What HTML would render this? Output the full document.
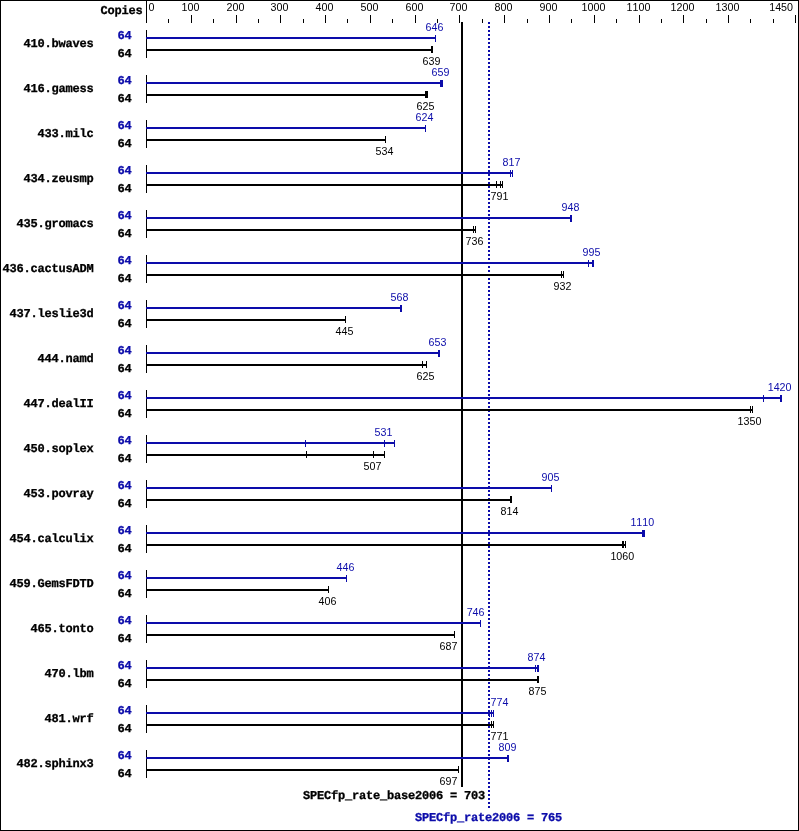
<!DOCTYPE html>
<html><head><meta charset="utf-8"><title>SPECfp_rate2006</title>
<style>
html,body{margin:0;padding:0;background:#fff;}
body{width:799px;height:831px;overflow:hidden;position:relative;}
svg{position:absolute;left:0;top:0;display:block;will-change:transform;}
.r{shape-rendering:crispEdges;}
text{font-family:"Liberation Sans",sans-serif;font-size:10.7px;font-kerning:none;}
.m{font-family:"Liberation Mono",monospace;font-weight:bold;font-size:12px;letter-spacing:-0.2px;stroke:#000;stroke-width:0.3px;text-rendering:geometricPrecision;}
.b{fill:#0c0caa;}
.m.b{stroke:#0c0caa;}
</style></head><body>
<svg width="799" height="831" viewBox="0 0 799 831">
<rect x="0" y="0" width="799" height="831" fill="#fff"/>
<g class="r">
<rect x="0" y="0" width="799" height="1"/>
<rect x="0" y="830" width="799" height="1"/>
<rect x="0" y="0" width="1" height="831"/>
<rect x="798" y="0" width="1" height="831"/>
<rect x="146" y="0" width="1" height="23"/>
<rect x="168" y="19" width="1" height="4"/>
<rect x="191" y="15" width="1" height="8"/>
<rect x="213" y="19" width="1" height="4"/>
<rect x="236" y="15" width="1" height="8"/>
<rect x="258" y="19" width="1" height="4"/>
<rect x="280" y="15" width="1" height="8"/>
<rect x="303" y="19" width="1" height="4"/>
<rect x="325" y="15" width="1" height="8"/>
<rect x="347" y="19" width="1" height="4"/>
<rect x="370" y="15" width="1" height="8"/>
<rect x="392" y="19" width="1" height="4"/>
<rect x="415" y="15" width="1" height="8"/>
<rect x="437" y="19" width="1" height="4"/>
<rect x="459" y="15" width="1" height="8"/>
<rect x="482" y="19" width="1" height="4"/>
<rect x="504" y="15" width="1" height="8"/>
<rect x="527" y="19" width="1" height="4"/>
<rect x="549" y="15" width="1" height="8"/>
<rect x="571" y="19" width="1" height="4"/>
<rect x="594" y="15" width="1" height="8"/>
<rect x="616" y="19" width="1" height="4"/>
<rect x="639" y="15" width="1" height="8"/>
<rect x="661" y="19" width="1" height="4"/>
<rect x="683" y="15" width="1" height="8"/>
<rect x="706" y="19" width="1" height="4"/>
<rect x="728" y="15" width="1" height="8"/>
<rect x="750" y="19" width="1" height="4"/>
<rect x="773" y="19" width="1" height="4"/>
<rect x="795" y="15" width="1" height="8"/>
<rect x="461" y="22" width="2" height="765"/>
<rect x="488" y="22" width="2" height="2" fill="#0c0caa"/>
<rect x="488" y="26" width="2" height="2" fill="#0c0caa"/>
<rect x="488" y="30" width="2" height="2" fill="#0c0caa"/>
<rect x="488" y="34" width="2" height="2" fill="#0c0caa"/>
<rect x="488" y="38" width="2" height="2" fill="#0c0caa"/>
<rect x="488" y="42" width="2" height="2" fill="#0c0caa"/>
<rect x="488" y="46" width="2" height="2" fill="#0c0caa"/>
<rect x="488" y="50" width="2" height="2" fill="#0c0caa"/>
<rect x="488" y="54" width="2" height="2" fill="#0c0caa"/>
<rect x="488" y="58" width="2" height="2" fill="#0c0caa"/>
<rect x="488" y="62" width="2" height="2" fill="#0c0caa"/>
<rect x="488" y="66" width="2" height="2" fill="#0c0caa"/>
<rect x="488" y="70" width="2" height="2" fill="#0c0caa"/>
<rect x="488" y="74" width="2" height="2" fill="#0c0caa"/>
<rect x="488" y="78" width="2" height="2" fill="#0c0caa"/>
<rect x="488" y="82" width="2" height="2" fill="#0c0caa"/>
<rect x="488" y="86" width="2" height="2" fill="#0c0caa"/>
<rect x="488" y="90" width="2" height="2" fill="#0c0caa"/>
<rect x="488" y="94" width="2" height="2" fill="#0c0caa"/>
<rect x="488" y="98" width="2" height="2" fill="#0c0caa"/>
<rect x="488" y="102" width="2" height="2" fill="#0c0caa"/>
<rect x="488" y="106" width="2" height="2" fill="#0c0caa"/>
<rect x="488" y="110" width="2" height="2" fill="#0c0caa"/>
<rect x="488" y="114" width="2" height="2" fill="#0c0caa"/>
<rect x="488" y="118" width="2" height="2" fill="#0c0caa"/>
<rect x="488" y="122" width="2" height="2" fill="#0c0caa"/>
<rect x="488" y="126" width="2" height="2" fill="#0c0caa"/>
<rect x="488" y="130" width="2" height="2" fill="#0c0caa"/>
<rect x="488" y="134" width="2" height="2" fill="#0c0caa"/>
<rect x="488" y="138" width="2" height="2" fill="#0c0caa"/>
<rect x="488" y="142" width="2" height="2" fill="#0c0caa"/>
<rect x="488" y="146" width="2" height="2" fill="#0c0caa"/>
<rect x="488" y="150" width="2" height="2" fill="#0c0caa"/>
<rect x="488" y="154" width="2" height="2" fill="#0c0caa"/>
<rect x="488" y="158" width="2" height="2" fill="#0c0caa"/>
<rect x="488" y="162" width="2" height="2" fill="#0c0caa"/>
<rect x="488" y="166" width="2" height="2" fill="#0c0caa"/>
<rect x="488" y="170" width="2" height="2" fill="#0c0caa"/>
<rect x="488" y="174" width="2" height="2" fill="#0c0caa"/>
<rect x="488" y="178" width="2" height="2" fill="#0c0caa"/>
<rect x="488" y="182" width="2" height="2" fill="#0c0caa"/>
<rect x="488" y="186" width="2" height="2" fill="#0c0caa"/>
<rect x="488" y="190" width="2" height="2" fill="#0c0caa"/>
<rect x="488" y="194" width="2" height="2" fill="#0c0caa"/>
<rect x="488" y="198" width="2" height="2" fill="#0c0caa"/>
<rect x="488" y="202" width="2" height="2" fill="#0c0caa"/>
<rect x="488" y="206" width="2" height="2" fill="#0c0caa"/>
<rect x="488" y="210" width="2" height="2" fill="#0c0caa"/>
<rect x="488" y="214" width="2" height="2" fill="#0c0caa"/>
<rect x="488" y="218" width="2" height="2" fill="#0c0caa"/>
<rect x="488" y="222" width="2" height="2" fill="#0c0caa"/>
<rect x="488" y="226" width="2" height="2" fill="#0c0caa"/>
<rect x="488" y="230" width="2" height="2" fill="#0c0caa"/>
<rect x="488" y="234" width="2" height="2" fill="#0c0caa"/>
<rect x="488" y="238" width="2" height="2" fill="#0c0caa"/>
<rect x="488" y="242" width="2" height="2" fill="#0c0caa"/>
<rect x="488" y="246" width="2" height="2" fill="#0c0caa"/>
<rect x="488" y="250" width="2" height="2" fill="#0c0caa"/>
<rect x="488" y="254" width="2" height="2" fill="#0c0caa"/>
<rect x="488" y="258" width="2" height="2" fill="#0c0caa"/>
<rect x="488" y="262" width="2" height="2" fill="#0c0caa"/>
<rect x="488" y="266" width="2" height="2" fill="#0c0caa"/>
<rect x="488" y="270" width="2" height="2" fill="#0c0caa"/>
<rect x="488" y="274" width="2" height="2" fill="#0c0caa"/>
<rect x="488" y="278" width="2" height="2" fill="#0c0caa"/>
<rect x="488" y="282" width="2" height="2" fill="#0c0caa"/>
<rect x="488" y="286" width="2" height="2" fill="#0c0caa"/>
<rect x="488" y="290" width="2" height="2" fill="#0c0caa"/>
<rect x="488" y="294" width="2" height="2" fill="#0c0caa"/>
<rect x="488" y="298" width="2" height="2" fill="#0c0caa"/>
<rect x="488" y="302" width="2" height="2" fill="#0c0caa"/>
<rect x="488" y="306" width="2" height="2" fill="#0c0caa"/>
<rect x="488" y="310" width="2" height="2" fill="#0c0caa"/>
<rect x="488" y="314" width="2" height="2" fill="#0c0caa"/>
<rect x="488" y="318" width="2" height="2" fill="#0c0caa"/>
<rect x="488" y="322" width="2" height="2" fill="#0c0caa"/>
<rect x="488" y="326" width="2" height="2" fill="#0c0caa"/>
<rect x="488" y="330" width="2" height="2" fill="#0c0caa"/>
<rect x="488" y="334" width="2" height="2" fill="#0c0caa"/>
<rect x="488" y="338" width="2" height="2" fill="#0c0caa"/>
<rect x="488" y="342" width="2" height="2" fill="#0c0caa"/>
<rect x="488" y="346" width="2" height="2" fill="#0c0caa"/>
<rect x="488" y="350" width="2" height="2" fill="#0c0caa"/>
<rect x="488" y="354" width="2" height="2" fill="#0c0caa"/>
<rect x="488" y="358" width="2" height="2" fill="#0c0caa"/>
<rect x="488" y="362" width="2" height="2" fill="#0c0caa"/>
<rect x="488" y="366" width="2" height="2" fill="#0c0caa"/>
<rect x="488" y="370" width="2" height="2" fill="#0c0caa"/>
<rect x="488" y="374" width="2" height="2" fill="#0c0caa"/>
<rect x="488" y="378" width="2" height="2" fill="#0c0caa"/>
<rect x="488" y="382" width="2" height="2" fill="#0c0caa"/>
<rect x="488" y="386" width="2" height="2" fill="#0c0caa"/>
<rect x="488" y="390" width="2" height="2" fill="#0c0caa"/>
<rect x="488" y="394" width="2" height="2" fill="#0c0caa"/>
<rect x="488" y="398" width="2" height="2" fill="#0c0caa"/>
<rect x="488" y="402" width="2" height="2" fill="#0c0caa"/>
<rect x="488" y="406" width="2" height="2" fill="#0c0caa"/>
<rect x="488" y="410" width="2" height="2" fill="#0c0caa"/>
<rect x="488" y="414" width="2" height="2" fill="#0c0caa"/>
<rect x="488" y="418" width="2" height="2" fill="#0c0caa"/>
<rect x="488" y="422" width="2" height="2" fill="#0c0caa"/>
<rect x="488" y="426" width="2" height="2" fill="#0c0caa"/>
<rect x="488" y="430" width="2" height="2" fill="#0c0caa"/>
<rect x="488" y="434" width="2" height="2" fill="#0c0caa"/>
<rect x="488" y="438" width="2" height="2" fill="#0c0caa"/>
<rect x="488" y="442" width="2" height="2" fill="#0c0caa"/>
<rect x="488" y="446" width="2" height="2" fill="#0c0caa"/>
<rect x="488" y="450" width="2" height="2" fill="#0c0caa"/>
<rect x="488" y="454" width="2" height="2" fill="#0c0caa"/>
<rect x="488" y="458" width="2" height="2" fill="#0c0caa"/>
<rect x="488" y="462" width="2" height="2" fill="#0c0caa"/>
<rect x="488" y="466" width="2" height="2" fill="#0c0caa"/>
<rect x="488" y="470" width="2" height="2" fill="#0c0caa"/>
<rect x="488" y="474" width="2" height="2" fill="#0c0caa"/>
<rect x="488" y="478" width="2" height="2" fill="#0c0caa"/>
<rect x="488" y="482" width="2" height="2" fill="#0c0caa"/>
<rect x="488" y="486" width="2" height="2" fill="#0c0caa"/>
<rect x="488" y="490" width="2" height="2" fill="#0c0caa"/>
<rect x="488" y="494" width="2" height="2" fill="#0c0caa"/>
<rect x="488" y="498" width="2" height="2" fill="#0c0caa"/>
<rect x="488" y="502" width="2" height="2" fill="#0c0caa"/>
<rect x="488" y="506" width="2" height="2" fill="#0c0caa"/>
<rect x="488" y="510" width="2" height="2" fill="#0c0caa"/>
<rect x="488" y="514" width="2" height="2" fill="#0c0caa"/>
<rect x="488" y="518" width="2" height="2" fill="#0c0caa"/>
<rect x="488" y="522" width="2" height="2" fill="#0c0caa"/>
<rect x="488" y="526" width="2" height="2" fill="#0c0caa"/>
<rect x="488" y="530" width="2" height="2" fill="#0c0caa"/>
<rect x="488" y="534" width="2" height="2" fill="#0c0caa"/>
<rect x="488" y="538" width="2" height="2" fill="#0c0caa"/>
<rect x="488" y="542" width="2" height="2" fill="#0c0caa"/>
<rect x="488" y="546" width="2" height="2" fill="#0c0caa"/>
<rect x="488" y="550" width="2" height="2" fill="#0c0caa"/>
<rect x="488" y="554" width="2" height="2" fill="#0c0caa"/>
<rect x="488" y="558" width="2" height="2" fill="#0c0caa"/>
<rect x="488" y="562" width="2" height="2" fill="#0c0caa"/>
<rect x="488" y="566" width="2" height="2" fill="#0c0caa"/>
<rect x="488" y="570" width="2" height="2" fill="#0c0caa"/>
<rect x="488" y="574" width="2" height="2" fill="#0c0caa"/>
<rect x="488" y="578" width="2" height="2" fill="#0c0caa"/>
<rect x="488" y="582" width="2" height="2" fill="#0c0caa"/>
<rect x="488" y="586" width="2" height="2" fill="#0c0caa"/>
<rect x="488" y="590" width="2" height="2" fill="#0c0caa"/>
<rect x="488" y="594" width="2" height="2" fill="#0c0caa"/>
<rect x="488" y="598" width="2" height="2" fill="#0c0caa"/>
<rect x="488" y="602" width="2" height="2" fill="#0c0caa"/>
<rect x="488" y="606" width="2" height="2" fill="#0c0caa"/>
<rect x="488" y="610" width="2" height="2" fill="#0c0caa"/>
<rect x="488" y="614" width="2" height="2" fill="#0c0caa"/>
<rect x="488" y="618" width="2" height="2" fill="#0c0caa"/>
<rect x="488" y="622" width="2" height="2" fill="#0c0caa"/>
<rect x="488" y="626" width="2" height="2" fill="#0c0caa"/>
<rect x="488" y="630" width="2" height="2" fill="#0c0caa"/>
<rect x="488" y="634" width="2" height="2" fill="#0c0caa"/>
<rect x="488" y="638" width="2" height="2" fill="#0c0caa"/>
<rect x="488" y="642" width="2" height="2" fill="#0c0caa"/>
<rect x="488" y="646" width="2" height="2" fill="#0c0caa"/>
<rect x="488" y="650" width="2" height="2" fill="#0c0caa"/>
<rect x="488" y="654" width="2" height="2" fill="#0c0caa"/>
<rect x="488" y="658" width="2" height="2" fill="#0c0caa"/>
<rect x="488" y="662" width="2" height="2" fill="#0c0caa"/>
<rect x="488" y="666" width="2" height="2" fill="#0c0caa"/>
<rect x="488" y="670" width="2" height="2" fill="#0c0caa"/>
<rect x="488" y="674" width="2" height="2" fill="#0c0caa"/>
<rect x="488" y="678" width="2" height="2" fill="#0c0caa"/>
<rect x="488" y="682" width="2" height="2" fill="#0c0caa"/>
<rect x="488" y="686" width="2" height="2" fill="#0c0caa"/>
<rect x="488" y="690" width="2" height="2" fill="#0c0caa"/>
<rect x="488" y="694" width="2" height="2" fill="#0c0caa"/>
<rect x="488" y="698" width="2" height="2" fill="#0c0caa"/>
<rect x="488" y="702" width="2" height="2" fill="#0c0caa"/>
<rect x="488" y="706" width="2" height="2" fill="#0c0caa"/>
<rect x="488" y="710" width="2" height="2" fill="#0c0caa"/>
<rect x="488" y="714" width="2" height="2" fill="#0c0caa"/>
<rect x="488" y="718" width="2" height="2" fill="#0c0caa"/>
<rect x="488" y="722" width="2" height="2" fill="#0c0caa"/>
<rect x="488" y="726" width="2" height="2" fill="#0c0caa"/>
<rect x="488" y="730" width="2" height="2" fill="#0c0caa"/>
<rect x="488" y="734" width="2" height="2" fill="#0c0caa"/>
<rect x="488" y="738" width="2" height="2" fill="#0c0caa"/>
<rect x="488" y="742" width="2" height="2" fill="#0c0caa"/>
<rect x="488" y="746" width="2" height="2" fill="#0c0caa"/>
<rect x="488" y="750" width="2" height="2" fill="#0c0caa"/>
<rect x="488" y="754" width="2" height="2" fill="#0c0caa"/>
<rect x="488" y="758" width="2" height="2" fill="#0c0caa"/>
<rect x="488" y="762" width="2" height="2" fill="#0c0caa"/>
<rect x="488" y="766" width="2" height="2" fill="#0c0caa"/>
<rect x="488" y="770" width="2" height="2" fill="#0c0caa"/>
<rect x="488" y="774" width="2" height="2" fill="#0c0caa"/>
<rect x="488" y="778" width="2" height="2" fill="#0c0caa"/>
<rect x="488" y="782" width="2" height="2" fill="#0c0caa"/>
<rect x="488" y="786" width="2" height="2" fill="#0c0caa"/>
<rect x="488" y="790" width="2" height="2" fill="#0c0caa"/>
<rect x="488" y="794" width="2" height="2" fill="#0c0caa"/>
<rect x="488" y="798" width="2" height="2" fill="#0c0caa"/>
<rect x="488" y="802" width="2" height="2" fill="#0c0caa"/>
<rect x="488" y="806" width="2" height="2" fill="#0c0caa"/>
<rect x="146" y="30" width="1" height="28"/>
<rect x="146" y="37" width="290" height="2" fill="#0c0caa"/>
<rect x="435" y="35" width="1" height="7" fill="#0c0caa"/>
<rect x="146" y="49" width="287" height="2"/>
<rect x="431" y="46" width="1" height="7"/>
<rect x="432" y="46" width="1" height="7"/>
<rect x="146" y="75" width="1" height="28"/>
<rect x="146" y="82" width="297" height="2" fill="#0c0caa"/>
<rect x="440" y="80" width="1" height="7" fill="#0c0caa"/>
<rect x="441" y="80" width="1" height="7" fill="#0c0caa"/>
<rect x="442" y="80" width="1" height="7" fill="#0c0caa"/>
<rect x="146" y="94" width="282" height="2"/>
<rect x="425" y="91" width="1" height="7"/>
<rect x="426" y="91" width="1" height="7"/>
<rect x="427" y="91" width="1" height="7"/>
<rect x="146" y="120" width="1" height="28"/>
<rect x="146" y="127" width="280" height="2" fill="#0c0caa"/>
<rect x="425" y="125" width="1" height="7" fill="#0c0caa"/>
<rect x="146" y="139" width="240" height="2"/>
<rect x="385" y="136" width="1" height="7"/>
<rect x="146" y="165" width="1" height="28"/>
<rect x="146" y="172" width="367" height="2" fill="#0c0caa"/>
<rect x="510" y="170" width="1" height="7" fill="#0c0caa"/>
<rect x="512" y="170" width="1" height="7" fill="#0c0caa"/>
<rect x="146" y="184" width="357" height="2"/>
<rect x="496" y="181" width="1" height="7"/>
<rect x="500" y="181" width="1" height="7"/>
<rect x="502" y="181" width="1" height="7"/>
<rect x="146" y="210" width="1" height="28"/>
<rect x="146" y="217" width="426" height="2" fill="#0c0caa"/>
<rect x="570" y="215" width="1" height="7" fill="#0c0caa"/>
<rect x="571" y="215" width="1" height="7" fill="#0c0caa"/>
<rect x="146" y="229" width="330" height="2"/>
<rect x="473" y="226" width="1" height="7"/>
<rect x="475" y="226" width="1" height="7"/>
<rect x="146" y="255" width="1" height="28"/>
<rect x="146" y="262" width="448" height="2" fill="#0c0caa"/>
<rect x="588" y="260" width="1" height="7" fill="#0c0caa"/>
<rect x="592" y="260" width="1" height="7" fill="#0c0caa"/>
<rect x="593" y="260" width="1" height="7" fill="#0c0caa"/>
<rect x="146" y="274" width="418" height="2"/>
<rect x="561" y="271" width="1" height="7"/>
<rect x="563" y="271" width="1" height="7"/>
<rect x="146" y="300" width="1" height="28"/>
<rect x="146" y="307" width="256" height="2" fill="#0c0caa"/>
<rect x="400" y="305" width="1" height="7" fill="#0c0caa"/>
<rect x="401" y="305" width="1" height="7" fill="#0c0caa"/>
<rect x="146" y="319" width="200" height="2"/>
<rect x="345" y="316" width="1" height="7"/>
<rect x="146" y="345" width="1" height="28"/>
<rect x="146" y="352" width="294" height="2" fill="#0c0caa"/>
<rect x="438" y="350" width="1" height="7" fill="#0c0caa"/>
<rect x="439" y="350" width="1" height="7" fill="#0c0caa"/>
<rect x="146" y="364" width="281" height="2"/>
<rect x="422" y="361" width="1" height="7"/>
<rect x="426" y="361" width="1" height="7"/>
<rect x="146" y="390" width="1" height="28"/>
<rect x="146" y="397" width="636" height="2" fill="#0c0caa"/>
<rect x="763" y="395" width="1" height="7" fill="#0c0caa"/>
<rect x="780" y="395" width="1" height="7" fill="#0c0caa"/>
<rect x="781" y="395" width="1" height="7" fill="#0c0caa"/>
<rect x="146" y="409" width="607" height="2"/>
<rect x="750" y="406" width="1" height="7"/>
<rect x="752" y="406" width="1" height="7"/>
<rect x="146" y="435" width="1" height="28"/>
<rect x="146" y="442" width="249" height="2" fill="#0c0caa"/>
<rect x="305" y="440" width="1" height="7" fill="#0c0caa"/>
<rect x="384" y="440" width="1" height="7" fill="#0c0caa"/>
<rect x="394" y="440" width="1" height="7" fill="#0c0caa"/>
<rect x="146" y="454" width="239" height="2"/>
<rect x="306" y="451" width="1" height="7"/>
<rect x="373" y="451" width="1" height="7"/>
<rect x="384" y="451" width="1" height="7"/>
<rect x="146" y="480" width="1" height="28"/>
<rect x="146" y="487" width="406" height="2" fill="#0c0caa"/>
<rect x="551" y="485" width="1" height="7" fill="#0c0caa"/>
<rect x="146" y="499" width="366" height="2"/>
<rect x="510" y="496" width="1" height="7"/>
<rect x="511" y="496" width="1" height="7"/>
<rect x="146" y="525" width="1" height="28"/>
<rect x="146" y="532" width="499" height="2" fill="#0c0caa"/>
<rect x="642" y="530" width="1" height="7" fill="#0c0caa"/>
<rect x="643" y="530" width="1" height="7" fill="#0c0caa"/>
<rect x="644" y="530" width="1" height="7" fill="#0c0caa"/>
<rect x="146" y="544" width="480" height="2"/>
<rect x="622" y="541" width="1" height="7"/>
<rect x="623" y="541" width="1" height="7"/>
<rect x="625" y="541" width="1" height="7"/>
<rect x="146" y="570" width="1" height="28"/>
<rect x="146" y="577" width="201" height="2" fill="#0c0caa"/>
<rect x="346" y="575" width="1" height="7" fill="#0c0caa"/>
<rect x="146" y="589" width="183" height="2"/>
<rect x="328" y="586" width="1" height="7"/>
<rect x="146" y="615" width="1" height="28"/>
<rect x="146" y="622" width="335" height="2" fill="#0c0caa"/>
<rect x="480" y="620" width="1" height="7" fill="#0c0caa"/>
<rect x="146" y="634" width="309" height="2"/>
<rect x="454" y="631" width="1" height="7"/>
<rect x="146" y="660" width="1" height="28"/>
<rect x="146" y="667" width="393" height="2" fill="#0c0caa"/>
<rect x="535" y="665" width="1" height="7" fill="#0c0caa"/>
<rect x="537" y="665" width="1" height="7" fill="#0c0caa"/>
<rect x="538" y="665" width="1" height="7" fill="#0c0caa"/>
<rect x="146" y="679" width="393" height="2"/>
<rect x="537" y="676" width="1" height="7"/>
<rect x="538" y="676" width="1" height="7"/>
<rect x="146" y="705" width="1" height="28"/>
<rect x="146" y="712" width="348" height="2" fill="#0c0caa"/>
<rect x="489" y="710" width="1" height="7" fill="#0c0caa"/>
<rect x="491" y="710" width="1" height="7" fill="#0c0caa"/>
<rect x="493" y="710" width="1" height="7" fill="#0c0caa"/>
<rect x="146" y="724" width="348" height="2"/>
<rect x="491" y="721" width="1" height="7"/>
<rect x="493" y="721" width="1" height="7"/>
<rect x="146" y="750" width="1" height="28"/>
<rect x="146" y="757" width="363" height="2" fill="#0c0caa"/>
<rect x="507" y="755" width="1" height="7" fill="#0c0caa"/>
<rect x="508" y="755" width="1" height="7" fill="#0c0caa"/>
<rect x="146" y="769" width="313" height="2"/>
<rect x="458" y="766" width="1" height="7"/>
</g>
<g text-anchor="middle">
<text x="190.5" y="11">100</text>
<text x="235.5" y="11">200</text>
<text x="279.5" y="11">300</text>
<text x="324.5" y="11">400</text>
<text x="369.5" y="11">500</text>
<text x="414.5" y="11">600</text>
<text x="458.5" y="11">700</text>
<text x="503.5" y="11">800</text>
<text x="548.5" y="11">900</text>
<text x="593.5" y="11">1000</text>
<text x="638.5" y="11">1100</text>
<text x="682.5" y="11">1200</text>
<text x="727.5" y="11">1300</text>
</g>
<text x="148.5" y="11">0</text>
<text x="793" y="11" text-anchor="end">1450</text>
<text class="m" x="142.5" y="14" text-anchor="end">Copies</text>
<text class="m" x="93.5" y="47" text-anchor="end">410.bwaves</text>
<text class="m b" x="131.5" y="39" text-anchor="end">64</text>
<text class="m" x="131.5" y="57" text-anchor="end">64</text>
<text class="b" x="434.5" y="31" text-anchor="middle">646</text>
<text x="431.5" y="65" text-anchor="middle">639</text>
<text class="m" x="93.5" y="92" text-anchor="end">416.gamess</text>
<text class="m b" x="131.5" y="84" text-anchor="end">64</text>
<text class="m" x="131.5" y="102" text-anchor="end">64</text>
<text class="b" x="440.5" y="76" text-anchor="middle">659</text>
<text x="425.5" y="110" text-anchor="middle">625</text>
<text class="m" x="93.5" y="137" text-anchor="end">433.milc</text>
<text class="m b" x="131.5" y="129" text-anchor="end">64</text>
<text class="m" x="131.5" y="147" text-anchor="end">64</text>
<text class="b" x="424.5" y="121" text-anchor="middle">624</text>
<text x="384.5" y="155" text-anchor="middle">534</text>
<text class="m" x="93.5" y="182" text-anchor="end">434.zeusmp</text>
<text class="m b" x="131.5" y="174" text-anchor="end">64</text>
<text class="m" x="131.5" y="192" text-anchor="end">64</text>
<text class="b" x="511.5" y="166" text-anchor="middle">817</text>
<text x="499.5" y="200" text-anchor="middle">791</text>
<text class="m" x="93.5" y="227" text-anchor="end">435.gromacs</text>
<text class="m b" x="131.5" y="219" text-anchor="end">64</text>
<text class="m" x="131.5" y="237" text-anchor="end">64</text>
<text class="b" x="570.5" y="211" text-anchor="middle">948</text>
<text x="474.5" y="245" text-anchor="middle">736</text>
<text class="m" x="93.5" y="272" text-anchor="end">436.cactusADM</text>
<text class="m b" x="131.5" y="264" text-anchor="end">64</text>
<text class="m" x="131.5" y="282" text-anchor="end">64</text>
<text class="b" x="591.5" y="256" text-anchor="middle">995</text>
<text x="562.5" y="290" text-anchor="middle">932</text>
<text class="m" x="93.5" y="317" text-anchor="end">437.leslie3d</text>
<text class="m b" x="131.5" y="309" text-anchor="end">64</text>
<text class="m" x="131.5" y="327" text-anchor="end">64</text>
<text class="b" x="399.5" y="301" text-anchor="middle">568</text>
<text x="344.5" y="335" text-anchor="middle">445</text>
<text class="m" x="93.5" y="362" text-anchor="end">444.namd</text>
<text class="m b" x="131.5" y="354" text-anchor="end">64</text>
<text class="m" x="131.5" y="372" text-anchor="end">64</text>
<text class="b" x="437.5" y="346" text-anchor="middle">653</text>
<text x="425.5" y="380" text-anchor="middle">625</text>
<text class="m" x="93.5" y="407" text-anchor="end">447.dealII</text>
<text class="m b" x="131.5" y="399" text-anchor="end">64</text>
<text class="m" x="131.5" y="417" text-anchor="end">64</text>
<text class="b" x="779.6" y="391" text-anchor="middle">1420</text>
<text x="749.5" y="425" text-anchor="middle">1350</text>
<text class="m" x="93.5" y="452" text-anchor="end">450.soplex</text>
<text class="m b" x="131.5" y="444" text-anchor="end">64</text>
<text class="m" x="131.5" y="462" text-anchor="end">64</text>
<text class="b" x="383.5" y="436" text-anchor="middle">531</text>
<text x="372.5" y="470" text-anchor="middle">507</text>
<text class="m" x="93.5" y="497" text-anchor="end">453.povray</text>
<text class="m b" x="131.5" y="489" text-anchor="end">64</text>
<text class="m" x="131.5" y="507" text-anchor="end">64</text>
<text class="b" x="550.5" y="481" text-anchor="middle">905</text>
<text x="509.5" y="515" text-anchor="middle">814</text>
<text class="m" x="93.5" y="542" text-anchor="end">454.calculix</text>
<text class="m b" x="131.5" y="534" text-anchor="end">64</text>
<text class="m" x="131.5" y="552" text-anchor="end">64</text>
<text class="b" x="642.3" y="526" text-anchor="middle">1110</text>
<text x="622.3" y="560" text-anchor="middle">1060</text>
<text class="m" x="93.5" y="587" text-anchor="end">459.GemsFDTD</text>
<text class="m b" x="131.5" y="579" text-anchor="end">64</text>
<text class="m" x="131.5" y="597" text-anchor="end">64</text>
<text class="b" x="345.5" y="571" text-anchor="middle">446</text>
<text x="327.5" y="605" text-anchor="middle">406</text>
<text class="m" x="93.5" y="632" text-anchor="end">465.tonto</text>
<text class="m b" x="131.5" y="624" text-anchor="end">64</text>
<text class="m" x="131.5" y="642" text-anchor="end">64</text>
<text class="b" x="475.6" y="616" text-anchor="middle">746</text>
<text x="448.5" y="650" text-anchor="middle">687</text>
<text class="m" x="93.5" y="677" text-anchor="end">470.lbm</text>
<text class="m b" x="131.5" y="669" text-anchor="end">64</text>
<text class="m" x="131.5" y="687" text-anchor="end">64</text>
<text class="b" x="536.5" y="661" text-anchor="middle">874</text>
<text x="537.5" y="695" text-anchor="middle">875</text>
<text class="m" x="93.5" y="722" text-anchor="end">481.wrf</text>
<text class="m b" x="131.5" y="714" text-anchor="end">64</text>
<text class="m" x="131.5" y="732" text-anchor="end">64</text>
<text class="b" x="499.5" y="706" text-anchor="middle">774</text>
<text x="499.5" y="740" text-anchor="middle">771</text>
<text class="m" x="93.5" y="767" text-anchor="end">482.sphinx3</text>
<text class="m b" x="131.5" y="759" text-anchor="end">64</text>
<text class="m" x="131.5" y="777" text-anchor="end">64</text>
<text class="b" x="507.5" y="751" text-anchor="middle">809</text>
<text x="448.5" y="785" text-anchor="middle">697</text>
<text class="m" x="485" y="799" text-anchor="end">SPECfp_rate_base2006 = 703</text>
<text class="m b" x="488.5" y="821" text-anchor="middle">SPECfp_rate2006 = 765</text>
</svg>
</body></html>
